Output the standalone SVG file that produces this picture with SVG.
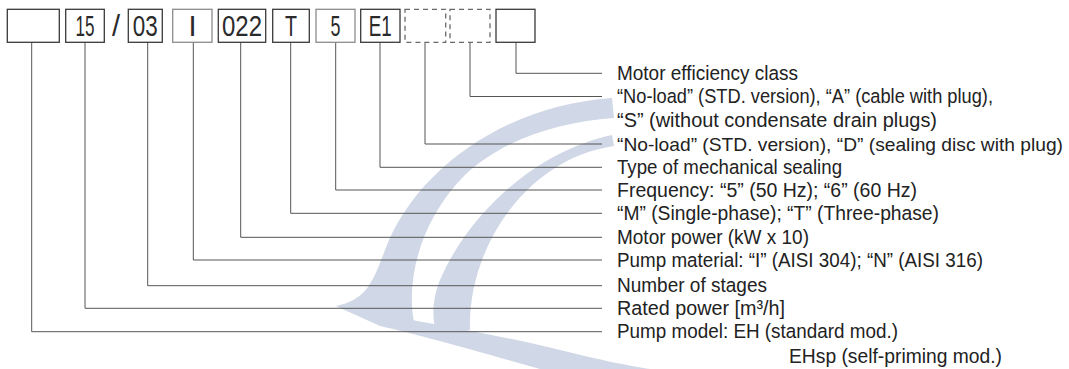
<svg xmlns="http://www.w3.org/2000/svg" width="1069" height="369" viewBox="0 0 1069 369">
<style>
.box{fill:none;stroke:#3a3a3a;stroke-width:1.3}
.lt{stroke:#8c8c8c}
.dash{fill:none;stroke:#6a6a6a;stroke-width:1.3;stroke-dasharray:5 4}
.code{font-family:"Liberation Sans",Arial,sans-serif;font-size:29px;fill:#2a2a2a;text-anchor:middle}
.lbl{font-family:"Liberation Sans",Arial,sans-serif;font-size:20.5px;fill:#222}
.lbl.sm{font-size:19px}
.ld{fill:none;stroke:#555;stroke-width:1}
.wm{fill:#d0d7e6}
</style>
<rect width="1069" height="369" fill="#ffffff"/>
<g id="watermark">
<path class="wm" d="M612 98 C505 105 415 170 385 250 C372 285 365 300 336 306 C360 318 390 325 414 322 C406 280 420 220 465 175 C505 138 560 122 614 118 Z"/>
<path class="wm" d="M612 135 C540 150 470 210 440 280 C432 300 432 318 436 330 L470 330 C468 270 500 200 560 165 C580 153 600 148 614 146 Z"/>
<path class="wm" d="M336 306 C420 322 500 335 560 350 C600 360 630 366 650 369 L540 369 C480 352 420 335 380 326 Z"/>
</g>
<g id="connectors">
<polyline class="ld" points="516,42.5 516,73.3 602,73.3"/>
<polyline class="ld" points="470,42.5 470,96.5 602,96.5"/>
<polyline class="ld" points="425,42.5 425,144 602,144"/>
<polyline class="ld" points="380,42.5 380,167.3 602,167.3"/>
<polyline class="ld" points="335.7,42.5 335.7,190 602,190"/>
<polyline class="ld" points="290.7,42.5 290.7,213.3 602,213.3"/>
<polyline class="ld" points="240.7,42.5 240.7,237.3 602,237.3"/>
<polyline class="ld" points="193.3,42.5 193.3,260 602,260"/>
<polyline class="ld" points="147.7,42.5 147.7,285.7 602,285.7"/>
<polyline class="ld" points="85,42.5 85,308.3 602,308.3"/>
<polyline class="ld" points="31.7,42.5 31.7,331.7 602,331.7"/>
</g>
<g id="box-model"><rect class="box" x="7.3" y="9.3" width="52" height="33"/></g>
<g id="box-rated"><rect class="box" x="65.7" y="9.3" width="38.6" height="33"/><text class="code" x="85" y="36" textLength="19" lengthAdjust="spacingAndGlyphs">15</text></g>
<g id="slash"><text class="code" x="116" y="36">/</text></g>
<g id="box-stages"><rect class="box" x="128.3" y="9.3" width="34" height="33"/><text class="code" x="145.3" y="36" textLength="25" lengthAdjust="spacingAndGlyphs">03</text></g>
<g id="box-material"><rect class="box lt" x="172.7" y="9.3" width="39.3" height="33"/><text class="code" x="192.5" y="36">I</text></g>
<g id="box-power"><rect class="box" x="218.3" y="9.3" width="47.4" height="33"/><text class="code" x="242" y="36" textLength="40" lengthAdjust="spacingAndGlyphs">022</text></g>
<g id="box-phase"><rect class="box" x="272.7" y="9.3" width="36.6" height="33"/><text class="code" x="291" y="36" textLength="12" lengthAdjust="spacingAndGlyphs">T</text></g>
<g id="box-freq"><rect class="box lt" x="316" y="9.3" width="39" height="33"/><text class="code" x="335.5" y="36" textLength="10" lengthAdjust="spacingAndGlyphs">5</text></g>
<g id="box-seal"><rect class="box" x="360.7" y="9.3" width="39.3" height="33"/><text class="code" x="380.3" y="36" textLength="23" lengthAdjust="spacingAndGlyphs">E1</text></g>
<g id="box-disc"><rect class="dash" x="405" y="9.3" width="40.7" height="33"/></g>
<g id="box-cable"><rect class="dash" x="450" y="9.3" width="40" height="33"/></g>
<g id="box-eff"><rect class="box" x="496" y="9.3" width="39" height="33"/></g>
<g id="labels">
<text class="lbl" x="617" y="80" textLength="181" lengthAdjust="spacingAndGlyphs">Motor efficiency class</text>
<text class="lbl" x="617" y="103.2" textLength="376" lengthAdjust="spacingAndGlyphs">“No-load” (STD. version), “A” (cable with plug),</text>
<text class="lbl" x="617" y="126.7" textLength="320" lengthAdjust="spacingAndGlyphs">“S” (without condensate drain plugs)</text>
<text class="lbl sm" x="617" y="150.7" textLength="446" lengthAdjust="spacingAndGlyphs">“No-load” (STD. version), “D” (sealing disc with plug)</text>
<text class="lbl" x="617" y="174" textLength="225" lengthAdjust="spacingAndGlyphs">Type of mechanical sealing</text>
<text class="lbl" x="617" y="196.7" textLength="300" lengthAdjust="spacingAndGlyphs">Frequency: “5” (50 Hz); “6” (60 Hz)</text>
<text class="lbl" x="617" y="220" textLength="322" lengthAdjust="spacingAndGlyphs">“M” (Single-phase); “T” (Three-phase)</text>
<text class="lbl" x="617" y="244" textLength="192" lengthAdjust="spacingAndGlyphs">Motor power (kW x 10)</text>
<text class="lbl" x="617" y="266.7" textLength="366" lengthAdjust="spacingAndGlyphs">Pump material: “I” (AISI 304); “N” (AISI 316)</text>
<text class="lbl" x="617" y="292.4" textLength="150" lengthAdjust="spacingAndGlyphs">Number of stages</text>
<text class="lbl" x="617" y="315" textLength="168" lengthAdjust="spacingAndGlyphs">Rated power [m³/h]</text>
<text class="lbl" x="617" y="338.4" textLength="281" lengthAdjust="spacingAndGlyphs">Pump model: EH (standard mod.)</text>
<text class="lbl" x="789" y="362.5" textLength="213" lengthAdjust="spacingAndGlyphs">EHsp (self-priming mod.)</text>
</g>
</svg>
